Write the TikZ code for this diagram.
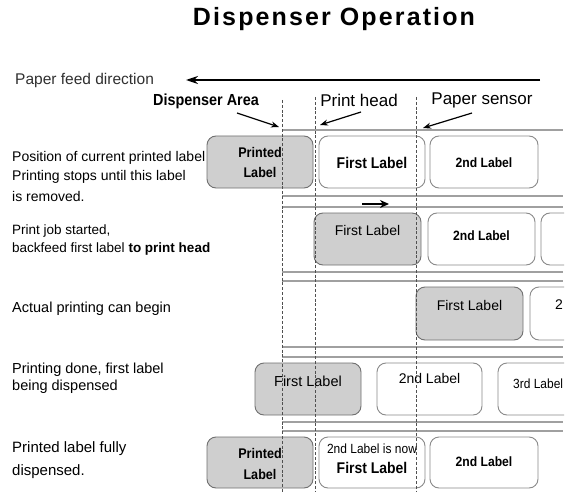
\documentclass[tikz,border=0pt]{standalone}
\usepackage{fontspec}
\setmainfont{Liberation Sans}
\newfontfamily\nar[FakeStretch=0.9]{Liberation Sans}
\usetikzlibrary{arrows.meta}
\definecolor{grayfill}{HTML}{CFCFCF}
\definecolor{grayedge}{HTML}{707070}
\definecolor{whiteedge}{HTML}{8A8A8A}
\definecolor{linergray}{HTML}{A0A0A0}
\definecolor{guidegray}{HTML}{505050}
\definecolor{txtgray}{HTML}{303030}
\newcommand{\fs}[1]{\fontsize{#1}{#1}\selectfont}
\begin{document}
\begin{tikzpicture}[x=1pt,y=-1pt,
  lbl/.style={draw=whiteedge, fill=white, rounded corners=9pt, line width=0.9pt, inner sep=0pt, minimum width=106pt, minimum height=52pt},
  plbl/.style={lbl, draw=grayedge, fill=grayfill},
  liner/.style={draw=linergray, line width=1.3pt},
  guide/.style={draw=guidegray, line width=0.6pt, dash pattern=on 3pt off 1.8pt},
  pointer/.style={draw=black, line width=1.2pt, -{Stealth[length=8pt,width=6pt]}},
  txt/.style={inner sep=0pt, anchor=west, text=black},
  ctr/.style={inner sep=0pt, anchor=center, text=black, align=center}
]
\useasboundingbox (0,0) rectangle (570,492);
\fill[white] (0,0) rectangle (570,492);

% title
\node[ctr, font={\fs{25}\bfseries\addfontfeatures{LetterSpace=8.5}}] (title) at (334,19) {Dispenser Operation};

% feed direction
\node[txt, font=\fs{15.5}, text=txtgray] (feed) at (15,80) {Paper feed direction};
\coordinate (feedS) at (540,80);
\coordinate (feedE) at (186,80);
\draw[line width=1.5pt, -{Stealth[length=12pt,width=8pt]}] (feedS) -- (feedE);

% headers
\node[ctr, font={\nar\fs{16}\bfseries}] (hdisp) at (206,101) {Dispenser Area};
\node[ctr, font=\fs{17}] (hhead) at (359,100) {Print head};
\node[ctr, font=\fs{17}] (hsens) at (482,100) {Paper sensor};
\coordinate (da1) at (237,113); \coordinate (da2) at (279,127);
\coordinate (ph1) at (361,112); \coordinate (ph2) at (320,125);
\coordinate (ps1) at (472,113); \coordinate (ps2) at (423,128);
\draw[pointer] (da1) -- (da2);
\draw[pointer] (ph1) -- (ph2);
\draw[pointer] (ps1) -- (ps2);

% liners
\foreach \yy [count=\i] in {130,196,207,272,281,347,357,422,431}
  \draw[liner] (282,\yy) -- (563,\yy);

% left texts
\node[txt, font=\fs{14}] (t1a) at (12,158) {Position of current printed label};
\node[txt, font=\fs{14}] (t1b) at (12,177) {Printing stops until this label};
\node[txt, font=\fs{14}] (t1c) at (12,196) {is removed.};
\node[txt, font=\fs{13.5}] (t2a) at (12,231) {Print job started,};
\node[txt, font=\fs{13.5}] (t2b) at (12,249) {backfeed first label \textbf{to print head}};
\node[txt, font=\fs{14.5}] (t3a) at (12,309) {Actual printing can begin};
\node[txt, font=\fs{14.5}] (t4a) at (12,370) {Printing done, first label};
\node[txt, font=\fs{14.5}] (t4b) at (12,387) {being dispensed};
\node[txt, font=\fs{15}] (t5a) at (12,449) {Printed label fully};
\node[txt, font=\fs{15}] (t5b) at (12,472) {dispensed.};

% labels
\begin{scope}
\clip (0,0) rectangle (564,492);
% row 1
\node[plbl] (r1a) at (260,162) {};
\node[lbl] (r1b) at (372,162) {};
\node[lbl, minimum width=108pt] (r1c) at (484,162) {};
\node[ctr, font={\nar\fs{14}\bfseries}] (r1a1) at (260,152) {Printed};
\node[ctr, font={\nar\fs{14}\bfseries}] (r1a2) at (260,172) {Label};
\node[ctr, font={\nar\fs{15.5}\bfseries}] (r1bt) at (372,163) {First Label};
\node[ctr, font={\nar\fs{13.5}\bfseries}] (r1ct) at (484,163) {2nd Label};
% row 2
\node[plbl, minimum width=107pt] (r2a) at (367.5,239) {};
\node[lbl, minimum width=107pt] (r2b) at (481.5,239) {};
\node[lbl, minimum width=107pt] (r2c) at (594.5,239) {};
\node[ctr, font=\fs{14}] (r2at) at (367.5,230) {First Label};
\node[ctr, font={\nar\fs{13.5}\bfseries}] (r2bt) at (481.5,236) {2nd Label};
% row 3
\node[plbl, minimum width=107pt, minimum height=53pt] (r3a) at (469.5,313.5) {};
\node[lbl, minimum width=107pt, minimum height=53pt] (r3b) at (583.5,313.5) {};
\node[ctr, font=\fs{14}] (r3at) at (469.5,305) {First Label};
\end{scope}
\node[txt, font=\fs{14}] (r3bt) at (555,305) {2};
\begin{scope}
\clip (0,0) rectangle (564,492);
% row 4
\node[plbl, minimum width=106pt] (r4a) at (308,389) {};
\node[lbl, minimum width=105pt] (r4b) at (429.5,389) {};
\node[lbl, minimum width=107pt] (r4c) at (551.5,389) {};
\node[ctr, font=\fs{14.5}] (r4at) at (308,381) {First Label};
\node[ctr, font=\fs{14}] (r4bt) at (429.5,378) {2nd Label};
\node[txt, font={\nar\fs{13.3}}] (r4ct) at (513,384) {3rd Label};
% row 5
\node[plbl, minimum height=51pt] (r5a) at (260,462.5) {};
\node[lbl, minimum height=51pt] (r5b) at (372,462.5) {};
\node[lbl, minimum width=108pt, minimum height=51pt] (r5c) at (484,462.5) {};
\node[ctr, font={\nar\fs{14}\bfseries}] (r5a1) at (260,453) {Printed};
\node[ctr, font={\nar\fs{14}\bfseries}] (r5a2) at (260,474) {Label};
\node[ctr, font={\nar\fs{13.3}}] (r5b1) at (372,449) {2nd Label is now};
\node[ctr, font={\nar\fs{15.5}\bfseries}] (r5b2) at (372,468) {First Label};
\node[ctr, font={\nar\fs{13.5}\bfseries}] (r5ct) at (484,462) {2nd Label};
\end{scope}

% back-feed arrow
\coordinate (bf1) at (362,204); \coordinate (bf2) at (389,204);
\draw[line width=2pt, -{Stealth[length=9pt,width=8pt]}] (bf1) -- (bf2);

% guide lines
\coordinate (g1t) at (282,100); \coordinate (g1b) at (282,492);
\coordinate (g2t) at (315,97); \coordinate (g2b) at (315,492);
\coordinate (g3t) at (416,97); \coordinate (g3b) at (416,492);
\draw[guide] (g1t) -- (g1b);
\draw[guide] (g2t) -- (g2b);
\draw[guide] (g3t) -- (g3b);
\end{tikzpicture}
\end{document}
